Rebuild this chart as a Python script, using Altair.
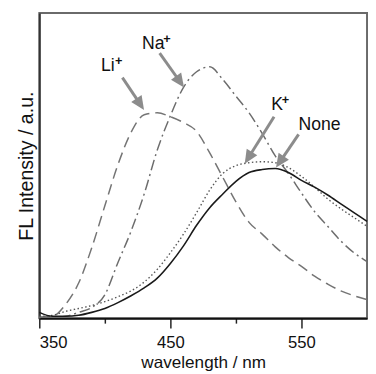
import math
import altair as alt
import pandas as pd

# ---- data ----
wl = [350, 360, 370, 380, 390, 400, 410, 420, 430, 440, 450, 460, 470,
      480, 490, 500, 510, 520, 530, 540, 550, 560, 570, 580, 590, 600]
none_vals = [6, 2, 2, 3, 6, 10, 16, 23, 31, 41, 56, 74, 95,
             113, 127, 140, 149, 152, 153, 149, 141, 134, 126, 117, 108, 99]
k_vals = [2, 3, 7, 10, 13, 17, 22, 28, 37, 50, 67, 86, 108,
          131, 148, 156, 159, 160, 159, 154, 145, 134, 122, 112, 103, 94]
li_vals = [1, 2, 14, 36, 72, 115, 157, 190, 208, 210, 206, 200, 191,
           169, 144, 119, 98, 86, 73, 62, 53, 43, 35, 28, 23, 19]
na_vals = [1, 1, 2, 6, 11, 24, 57, 89, 127, 172, 207, 236, 252,
           257, 244, 227, 210, 189, 166, 148, 128, 109, 94, 79, 67, 58]

series = ["Li+", "Na+", "K+", "None"]
series_vals = [li_vals, na_vals, k_vals, none_vals]

labels = ["Li", "Na", "K", "None"]
sups = ["+", "+", "+", ""]
label_x = [397.0, 428.4, 526.9, 547.8]
label_y = [253, 275, 213, 192]
sup_x = [407.8, 444.6, 535.0, 600]
arrow_x0 = [413.4, 441.8, 529.1, 547.8]
arrow_y0 = [246, 271, 206, 188]
arrow_x1 = [429.9, 460.4, 506.7, 530.6]
arrow_y1 = [213, 236, 158, 154]

X_DOMAIN = [350, 600]
Y_DOMAIN = [0, 312]
W, H = 335, 312

rows = []
for name, vals in zip(series, series_vals):
    for w, v in zip(wl, vals):
        rows.append({"wl": w, "I": v, "s": name})
df = pd.DataFrame(rows)

sx = W / (X_DOMAIN[1] - X_DOMAIN[0])
sy = H / (Y_DOMAIN[1] - Y_DOMAIN[0])
arows = []
for lab, sp, lx, ly, spx, x0, y0, x1, y1 in zip(labels, sups, label_x, label_y, sup_x,
                                                arrow_x0, arrow_y0, arrow_x1, arrow_y1):
    dxp = (x1 - x0) * sx
    dyp = -(y1 - y0) * sy
    L = math.hypot(dxp, dyp)
    ux, uy = dxp / L, dyp / L
    back = 8
    xe = x1 - back * ux / sx
    ye = y1 + back * uy / sy
    ang = math.degrees(math.atan2(dxp, -dyp)) % 360
    arows.append({"lab": lab, "sup": sp, "lx": lx, "ly": ly, "spx": spx,
                  "spy": ly + 6 / sy,
                  "x0": x0, "y0": y0, "xe": xe, "ye": ye, "x1": x1, "y1": y1,
                  "ang": ang})
adf = pd.DataFrame(arows)

FONT = "Liberation Sans"
xscale = alt.Scale(domain=X_DOMAIN, nice=False, zero=False)
yscale = alt.Scale(domain=Y_DOMAIN, nice=False, zero=False)

xaxis = alt.Axis(
    values=[350, 400, 450, 500, 550],
    labelExpr="datum.value % 100 == 50 ? datum.label : ''",
    tickSize={"condition": {"test": "datum.value % 100 == 50", "value": 10}, "value": 5},
    tickColor="#222", tickWidth=1.5, domainColor="#111", domainWidth=2,
    labelFontSize=17, labelFont=FONT, labelColor="#111", labelPadding=7,
    titleFontSize=17.5, titleFont=FONT, titleColor="#111", titleFontWeight="normal",
    titlePadding=3, grid=False, title="wavelength / nm",
)
yaxis = alt.Axis(
    ticks=False, labels=False, domainColor="#333", domainWidth=2, grid=False,
    title="FL Intensity / a.u.", titleFontSize=20, titleFont=FONT,
    titleColor="#111", titleFontWeight="normal", titlePadding=3,
)


def X(field):
    return alt.X(field, type="quantitative", scale=xscale, axis=xaxis)


def Y(field):
    return alt.Y(field, type="quantitative", scale=yscale, axis=yaxis)


styles = {
    "Li+": dict(color="#747474", strokeDash=[11, 6], strokeWidth=1.5),
    "Na+": dict(color="#6c6c6c", strokeDash=[11, 4, 2, 4], strokeWidth=1.5),
    "K+": dict(color="#555555", strokeDash=[1.5, 2.5], strokeWidth=1.4),
    "None": dict(color="#1a1a1a", strokeWidth=1.6),
}

layers = []
for name in series:
    layers.append(
        alt.Chart(df).transform_filter(alt.datum.s == name)
        .mark_line(interpolate="monotone", **styles[name])
        .encode(x=X("wl"), y=Y("I"))
    )

ARROW = "#8c8c8c"
shafts = alt.Chart(adf).mark_rule(color=ARROW, strokeWidth=3).encode(
    x=X("x0"), y=Y("y0"), x2="xe:Q", y2="ye:Q")
heads = alt.Chart(adf).mark_point(
    shape="M0,0L0.5,1.1L-0.5,1.1Z", filled=True, size=650, color=ARROW,
    opacity=1, strokeWidth=0).encode(
    x=X("x1"), y=Y("y1"), angle=alt.Angle("ang:Q", scale=None))
texts = alt.Chart(adf).mark_text(
    align="left", baseline="alphabetic", fontSize=18, font=FONT, color="#111").encode(
    x=X("lx"), y=Y("ly"), text="lab:N")
plus = alt.Chart(adf).mark_text(
    align="left", baseline="alphabetic", fontSize=13, fontWeight="bold",
    font=FONT, color="#111").encode(
    x=X("spx"), y=Y("spy"), text="sup:N")

chart = alt.layer(*layers, shafts, heads, texts, plus).properties(
    width=W, height=H,
    background="white",
    autosize=alt.AutoSizeParams(type="none"),
    padding={"left": 32, "top": 1, "right": 1, "bottom": 60},
).configure_view(stroke="#6a6a6a", strokeWidth=2)

chart.save("out.html", embed_options={"renderer": "svg", "actions": False})
